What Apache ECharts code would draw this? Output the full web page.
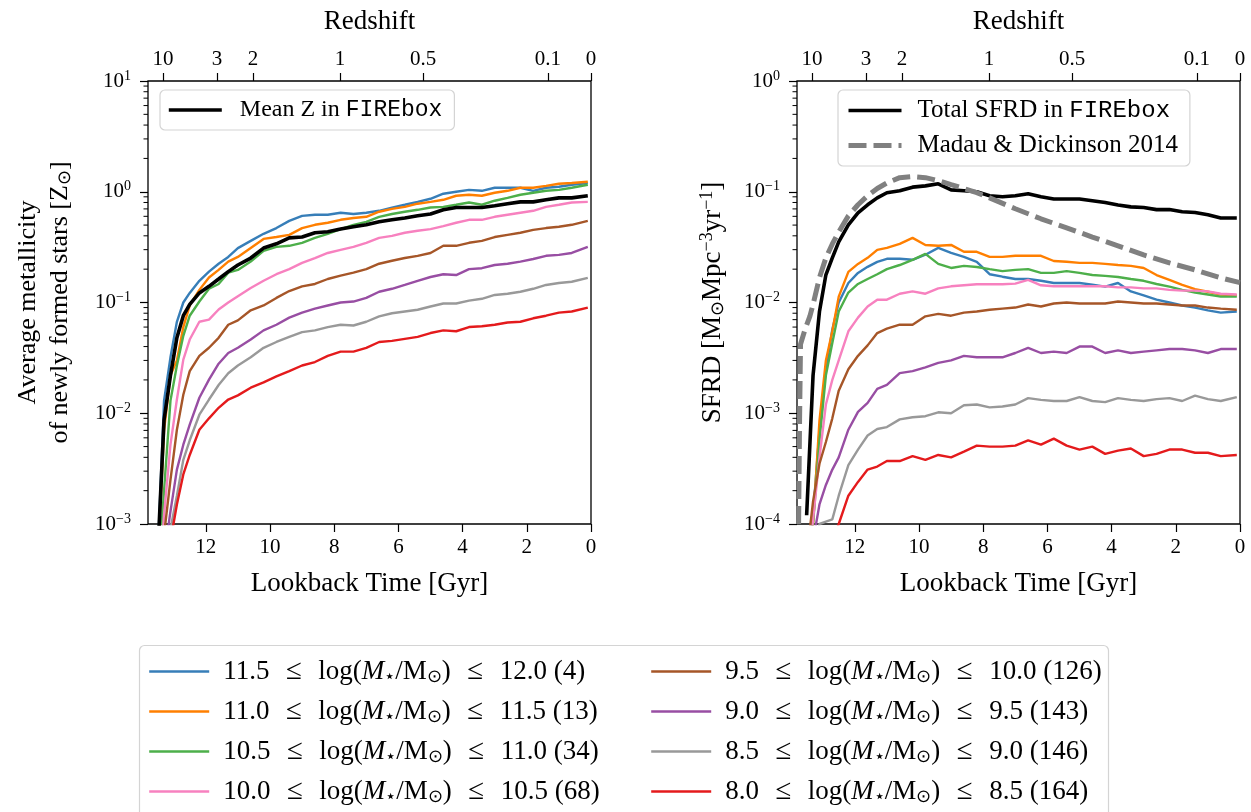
<!DOCTYPE html>
<html>
<head>
<meta charset="utf-8">
<script src="https://cdn.jsdelivr.net/npm/echarts@6/dist/echarts.min.js"></script>
<style>
html,body{margin:0;padding:0;background:#fff;}
#chart{width:1251px;height:812px;}
</style>
</head>
<body>
<div id="chart"></div>
<script>
// ---------------- DATA ----------------
const lookbackTime = [13.5, 13.3, 13.1, 12.9, 12.7, 12.5, 12.2, 11.9, 11.6, 11.3, 11.0,
  10.6, 10.2, 9.8, 9.4, 9.0, 8.6, 8.2, 7.8, 7.4, 7.0, 6.6, 6.2, 5.8, 5.4, 5.0,
  4.6, 4.2, 3.8, 3.4, 3.0, 2.6, 2.2, 1.8, 1.4, 1.0, 0.6, 0.1];

const binLabels = [
  '11.5 ≤ log(M⋆/M⊙) ≤ 12.0 (4)',
  '11.0 ≤ log(M⋆/M⊙) ≤ 11.5 (13)',
  '10.5 ≤ log(M⋆/M⊙) ≤ 11.0 (34)',
  '10.0 ≤ log(M⋆/M⊙) ≤ 10.5 (68)',
  '9.5 ≤ log(M⋆/M⊙) ≤ 10.0 (126)',
  '9.0 ≤ log(M⋆/M⊙) ≤ 9.5 (143)',
  '8.5 ≤ log(M⋆/M⊙) ≤ 9.0 (146)',
  '8.0 ≤ log(M⋆/M⊙) ≤ 8.5 (164)'
];
const binColors = ['#377eb8', '#ff7f00', '#4daf4a', '#f781bf', '#a65628', '#984ea3', '#999999', '#e41a1c'];

// Left panel: average metallicity of newly formed stars [Zsun]
const metal_115_120 = [0.0005, 0.013, 0.032, 0.067, 0.1, 0.122, 0.157, 0.19, 0.224, 0.258, 0.31, 0.36, 0.417, 0.47, 0.546, 0.606, 0.62, 0.62, 0.646, 0.63, 0.646, 0.673, 0.72, 0.763, 0.81, 0.864, 0.96, 1.0, 1.04, 1.02, 1.087, 1.087, 1.087, 1.02, 1.087, 1.11, 1.157, 1.2];
const metal_110_115 = [0.0004, 0.007, 0.022, 0.03, 0.06, 0.094, 0.13, 0.168, 0.197, 0.234, 0.258, 0.31, 0.375, 0.39, 0.408, 0.47, 0.503, 0.525, 0.558, 0.58, 0.594, 0.66, 0.7, 0.73, 0.78, 0.81, 0.846, 0.92, 0.94, 0.92, 0.98, 1.02, 1.087, 1.087, 1.13, 1.18, 1.2, 1.23];
const metal_105_110 = [0.0003, 0.002, 0.013, 0.027, 0.05, 0.076, 0.102, 0.133, 0.147, 0.186, 0.197, 0.234, 0.293, 0.318, 0.325, 0.346, 0.383, 0.417, 0.46, 0.503, 0.535, 0.594, 0.63, 0.66, 0.687, 0.72, 0.73, 0.763, 0.8, 0.763, 0.83, 0.88, 0.94, 0.98, 1.02, 1.04, 1.087, 1.157];
const metal_100_105 = [0.0002, 0.0012, 0.0052, 0.0133, 0.0305, 0.0463, 0.067, 0.07, 0.0864, 0.1, 0.114, 0.135, 0.157, 0.18, 0.2, 0.228, 0.252, 0.28, 0.299, 0.318, 0.346, 0.383, 0.4, 0.426, 0.444, 0.46, 0.49, 0.525, 0.558, 0.558, 0.594, 0.62, 0.646, 0.673, 0.73, 0.763, 0.8, 0.81];
const metal_95_100 = [0.0002, 0.0008, 0.0025, 0.0071, 0.0147, 0.024, 0.033, 0.039, 0.048, 0.063, 0.069, 0.085, 0.094, 0.11, 0.127, 0.14, 0.147, 0.163, 0.175, 0.186, 0.2, 0.224, 0.238, 0.252, 0.264, 0.28, 0.325, 0.325, 0.346, 0.36, 0.39, 0.408, 0.426, 0.453, 0.47, 0.483, 0.503, 0.546];
const metal_90_95 = [0.0001, 0.0005, 0.0013, 0.0031, 0.0052, 0.0079, 0.0138, 0.0201, 0.028, 0.035, 0.039, 0.0463, 0.056, 0.063, 0.073, 0.081, 0.088, 0.094, 0.1, 0.102, 0.11, 0.125, 0.133, 0.144, 0.157, 0.17, 0.18, 0.177, 0.2, 0.204, 0.218, 0.224, 0.234, 0.247, 0.264, 0.269, 0.28, 0.318];
const metal_85_90 = [0.0001, 0.0004, 0.0009, 0.0018, 0.0038, 0.0057, 0.0097, 0.0133, 0.018, 0.023, 0.027, 0.032, 0.039, 0.044, 0.049, 0.054, 0.056, 0.06, 0.063, 0.062, 0.067, 0.075, 0.08, 0.083, 0.086, 0.092, 0.098, 0.098, 0.104, 0.108, 0.117, 0.12, 0.125, 0.133, 0.144, 0.15, 0.154, 0.167];
const metal_80_85 = [0.0001, 0.0003, 0.0007, 0.0015, 0.0028, 0.0042, 0.0071, 0.009, 0.0112, 0.0133, 0.0145, 0.017, 0.019, 0.0215, 0.024, 0.027, 0.029, 0.033, 0.036, 0.036, 0.039, 0.044, 0.045, 0.047, 0.049, 0.053, 0.056, 0.055, 0.06, 0.061, 0.063, 0.066, 0.067, 0.072, 0.076, 0.081, 0.083, 0.09];
const metal_mean = [0.0005, 0.0087, 0.022, 0.048, 0.076, 0.096, 0.122, 0.14, 0.163, 0.19, 0.218, 0.252, 0.31, 0.339, 0.383, 0.39, 0.426, 0.435, 0.46, 0.483, 0.503, 0.535, 0.558, 0.58, 0.606, 0.63, 0.687, 0.72, 0.72, 0.72, 0.747, 0.78, 0.81, 0.81, 0.846, 0.88, 0.88, 0.92];

// Right panel: SFRD [Msun Mpc^-3 yr^-1]
const sfrd_115_120 = [0.00004, 0.00012, 0.0007, 0.0025, 0.0057, 0.01, 0.015, 0.0185, 0.021, 0.0233, 0.0248, 0.0248, 0.0243, 0.027, 0.0311, 0.028, 0.0258, 0.0233, 0.018, 0.0171, 0.0163, 0.0163, 0.0157, 0.015, 0.015, 0.015, 0.0145, 0.0139, 0.015, 0.0126, 0.0116, 0.0106, 0.01, 0.0094, 0.009, 0.0085, 0.0081, 0.0083];
const sfrd_110_115 = [0.00003, 0.0001, 0.00086, 0.003, 0.0055, 0.0113, 0.0189, 0.0223, 0.0253, 0.0299, 0.0311, 0.0338, 0.0383, 0.0331, 0.0325, 0.0331, 0.0287, 0.0287, 0.0258, 0.0258, 0.0264, 0.0264, 0.0264, 0.0237, 0.0233, 0.0228, 0.0228, 0.0223, 0.0218, 0.0214, 0.0205, 0.0177, 0.016, 0.0144, 0.0132, 0.0125, 0.0118, 0.0116];
const sfrd_105_110 = [0.00003, 0.0001, 0.00057, 0.0022, 0.0043, 0.0083, 0.0123, 0.0147, 0.0163, 0.018, 0.02, 0.0218, 0.0243, 0.0275, 0.0223, 0.0205, 0.0214, 0.0209, 0.02, 0.0192, 0.0197, 0.02, 0.0185, 0.0185, 0.0192, 0.0185, 0.0177, 0.0174, 0.017, 0.0163, 0.0157, 0.0147, 0.0139, 0.013, 0.0123, 0.0118, 0.0113, 0.0113];
const sfrd_100_105 = [0.00003, 0.00011, 0.0004, 0.0012, 0.002, 0.003, 0.0055, 0.0073, 0.0092, 0.0106, 0.0106, 0.012, 0.0126, 0.012, 0.0134, 0.014, 0.0143, 0.0146, 0.0146, 0.0146, 0.0148, 0.016, 0.0143, 0.014, 0.014, 0.014, 0.014, 0.014, 0.0137, 0.0137, 0.0134, 0.0134, 0.013, 0.0128, 0.0128, 0.0126, 0.012, 0.0118];
const sfrd_95_100 = [0.00005, 0.00016, 0.00035, 0.00055, 0.0009, 0.0016, 0.0025, 0.0033, 0.0041, 0.0053, 0.0058, 0.0063, 0.0063, 0.0075, 0.0079, 0.0076, 0.0081, 0.0083, 0.0086, 0.0088, 0.009, 0.0096, 0.0092, 0.0098, 0.01, 0.0098, 0.0098, 0.0098, 0.0102, 0.01, 0.0098, 0.0098, 0.0096, 0.0094, 0.0094, 0.009, 0.0088, 0.0086];
const sfrd_90_95 = [0.00003, 0.00007, 0.00015, 0.000225, 0.00031, 0.0004, 0.00071, 0.00103, 0.00124, 0.00166, 0.0018, 0.0023, 0.0024, 0.0026, 0.00285, 0.003, 0.0033, 0.0032, 0.0032, 0.0032, 0.0035, 0.0039, 0.0035, 0.0036, 0.0035, 0.004, 0.004, 0.0035, 0.0037, 0.0035, 0.0036, 0.0037, 0.0038, 0.0038, 0.0037, 0.0035, 0.0038, 0.0038];
const sfrd_85_90 = [0.00002, 0.00004, 0.0001, 0.000105, 0.00011, 0.00018, 0.00034, 0.00047, 0.00063, 0.00072, 0.00075, 0.00088, 0.00092, 0.00094, 0.00102, 0.001, 0.00118, 0.0012, 0.00113, 0.00115, 0.0012, 0.00137, 0.00132, 0.00129, 0.00129, 0.0014, 0.00129, 0.00126, 0.00137, 0.00132, 0.00129, 0.00134, 0.00137, 0.00129, 0.00144, 0.00134, 0.00129, 0.0014];
const sfrd_80_85 = [0.00001, 0.00002, 0.00003, 0.00005, 0.00007, 0.0001, 0.00018, 0.00024, 0.00031, 0.00033, 0.00037, 0.00037, 0.00041, 0.00038, 0.00042, 0.0004, 0.00045, 0.00051, 0.0005, 0.0005, 0.00051, 0.00057, 0.00052, 0.00059, 0.00051, 0.00047, 0.0005, 0.00043, 0.00046, 0.00048, 0.00041, 0.00043, 0.00047, 0.00047, 0.00044, 0.00044, 0.00041, 0.00042];
const sfrd_total = [0.00012, 0.0022, 0.0083, 0.0178, 0.0253, 0.0353, 0.0503, 0.0646, 0.0763, 0.088, 0.098, 0.102, 0.11, 0.113, 0.118, 0.104, 0.102, 0.1, 0.092, 0.09, 0.092, 0.096, 0.09, 0.086, 0.086, 0.086, 0.083, 0.08, 0.076, 0.073, 0.072, 0.069, 0.069, 0.066, 0.065, 0.062, 0.058, 0.058];

// Madau & Dickinson 2014 curve
const mdTime = [13.75, 13.72, 13.69, 13.55, 13.4, 13.3, 13.1, 12.9, 12.7, 12.5, 12.2, 11.9, 11.6, 11.3, 11.0, 10.6, 10.2, 9.8, 9.4, 9.0, 8.6, 8.2, 7.8, 7.0, 6.2, 5.4, 4.6, 3.8, 3.0, 2.2, 1.4, 0.6, 0.0];
const mdSfrd = [0.0001, 0.00086, 0.0042, 0.0057, 0.0075, 0.0096, 0.0168, 0.0253, 0.0338, 0.0434, 0.0606, 0.0763, 0.092, 0.107, 0.12, 0.134, 0.137, 0.134, 0.126, 0.116, 0.107, 0.098, 0.088, 0.0702, 0.057, 0.0472, 0.039, 0.0325, 0.0269, 0.0228, 0.0197, 0.0167, 0.0151];

// Axis ticks
const lookbackTicks = [0, 2, 4, 6, 8, 10, 12];
const redshiftTickLabels = ['10', '3', '2', '1', '0.5', '0.1', '0'];
const redshiftTickLookback = [13.33, 11.65, 10.53, 7.82, 5.23, 1.34, 0];
const minorMultipliers = [2, 3, 4, 5, 6, 7, 8, 9];

const metalSeriesVals = [metal_115_120, metal_110_115, metal_105_110, metal_100_105, metal_95_100, metal_90_95, metal_85_90, metal_80_85];
const sfrdSeriesVals = [sfrd_115_120, sfrd_110_115, sfrd_105_110, sfrd_100_105, sfrd_95_100, sfrd_90_95, sfrd_85_90, sfrd_80_85];

// ---------------- CHART ----------------
const FONT = 'Liberation Serif';
const MONO = 'Liberation Mono';
const X_MAX = 13.8;
const chart = echarts.init(document.getElementById('chart'));

function minorTickValues(lo, hi) {
  const out = [];
  for (let d = lo; d < hi; d++) minorMultipliers.forEach(k => out.push([X_MAX, k * Math.pow(10, d)]));
  return out;
}
function powLabel(v) {
  const e = Math.round(Math.log10(v));
  return '10{sup|' + (e < 0 ? '\u2212' + (-e) : String(e)) + '}';
}
function redshiftLabel(v) {
  let best = 0;
  for (let i = 0; i < redshiftTickLookback.length; i++) {
    if (Math.abs(redshiftTickLookback[i] - v) < Math.abs(redshiftTickLookback[best] - v)) best = i;
  }
  return redshiftTickLabels[best];
}
const tickLine = {color: '#000', width: 1.2};
const labelStyle = {fontFamily: FONT, fontSize: 21, color: '#000'};
const titleStyle = {fontFamily: FONT, fontSize: 27, color: '#000'};

function bottomAxis(g) {
  return {
    type: 'value', gridIndex: g, min: 0, max: X_MAX, inverse: true, position: 'bottom',
    axisLine: {show: false, onZero: false},
    axisTick: {show: true, customValues: lookbackTicks, length: 8, lineStyle: tickLine},
    axisLabel: Object.assign({customValues: lookbackTicks, margin: 13}, labelStyle),
    splitLine: {show: false},
    name: 'Lookback Time [Gyr]', nameLocation: 'middle', nameGap: 46, nameTextStyle: titleStyle
  };
}
function topAxis(g) {
  return {
    type: 'value', gridIndex: g, min: 0, max: X_MAX, inverse: true, position: 'top',
    axisLine: {show: false, onZero: false},
    axisTick: {show: true, customValues: redshiftTickLookback, length: 8, lineStyle: tickLine},
    axisLabel: Object.assign({customValues: redshiftTickLookback, margin: 11, formatter: redshiftLabel}, labelStyle),
    splitLine: {show: false},
    name: 'Redshift', nameLocation: 'middle', nameGap: 46, nameTextStyle: titleStyle
  };
}
function logAxis(g, mn, mx, name, gap, rich, fs) {
  return {
    type: 'log', logBase: 10, gridIndex: g, min: mn, max: mx, position: 'left',
    axisLine: {show: false, onZero: false},
    axisTick: {show: true, length: 8, lineStyle: tickLine},
    axisLabel: Object.assign({formatter: powLabel, margin: 17,
      rich: {sup: {fontFamily: FONT, fontSize: 14, padding: [0, 0, 10, 0], color: '#000'}}}, labelStyle),
    splitLine: {show: false},
    minorTick: {show: false},
    name: name, nameLocation: 'middle', nameRotate: 90, nameGap: gap,
    nameTextStyle: {fontFamily: FONT, fontSize: fs, color: '#000', lineHeight: 32, rich: rich}
  };
}
// minor log ticks drawn through the axis scale
function minorTickSeries(xi, yi, lo, hi) {
  return {
    type: 'custom', xAxisIndex: xi, yAxisIndex: yi, silent: true, clip: false, z: 5,
    data: minorTickValues(lo, hi),
    renderItem: function (params, api) {
      const p = api.coord([api.value(0), api.value(1)]);
      return {type: 'line', shape: {x1: p[0] - 4.5, y1: p[1], x2: p[0], y2: p[1]},
              style: {stroke: '#000', lineWidth: 1}};
    }
  };
}

const series = [];
metalSeriesVals.forEach((vals, i) => {
  series.push({
    name: binLabels[i], type: 'line', xAxisIndex: 0, yAxisIndex: 0, symbol: 'none',
    data: lookbackTime.map((t, j) => [t, vals[j]]),
    lineStyle: {width: 2.4, color: binColors[i]}, itemStyle: {color: binColors[i]}
  });
});
series.push({
  name: 'Mean Z in FIREbox', type: 'line', xAxisIndex: 0, yAxisIndex: 0, symbol: 'none',
  data: lookbackTime.map((t, j) => [t, metal_mean[j]]),
  lineStyle: {width: 3.6, color: '#000'}, itemStyle: {color: '#000'}
});
sfrdSeriesVals.forEach((vals, i) => {
  series.push({
    name: binLabels[i], type: 'line', xAxisIndex: 1, yAxisIndex: 1, symbol: 'none',
    data: lookbackTime.map((t, j) => [t, vals[j]]),
    lineStyle: {width: 2.4, color: binColors[i]}, itemStyle: {color: binColors[i]}
  });
});
series.push({
  name: 'Total SFRD in FIREbox', type: 'line', xAxisIndex: 1, yAxisIndex: 1, symbol: 'none',
  data: lookbackTime.map((t, j) => [t, sfrd_total[j]]),
  lineStyle: {width: 3.6, color: '#000'}, itemStyle: {color: '#000'}
});
series.push({
  name: 'Madau & Dickinson 2014', type: 'line', xAxisIndex: 1, yAxisIndex: 1, symbol: 'none',
  data: mdTime.map((t, j) => [t, mdSfrd[j]]),
  lineStyle: {width: 5, color: '#808080', type: [18, 7]}, itemStyle: {color: '#808080'}
});
series.push(minorTickSeries(0, 0, -3, 1));
series.push(minorTickSeries(1, 1, -4, 0));

function makeRich(fs) {
  return {
    mono: {fontFamily: MONO, fontSize: fs - 1, color: '#000', lineHeight: 28},
    it: {fontFamily: FONT, fontStyle: 'italic', fontSize: fs, color: '#000', lineHeight: 28},
    le: {fontFamily: FONT, fontSize: fs + 2, color: '#000', lineHeight: 28, padding: [0, 3, 0, 3]},
    sub: {fontFamily: FONT, fontSize: Math.round(fs * 0.66), padding: [11, 0, 0, 0], color: '#000'}
  };
}
function legendFmt(name) {
  return name.replace('FIREbox', '{mono|FIREbox}')
             .replace('log(M⋆/M⊙)', 'log({it|M}{sub|⋆}/M{sub|⊙})')
             .split(' ≤ ').join('\u2002{le|≤}\u2002');
}
const innerLegendBase = {
  orient: 'vertical', itemWidth: 53, itemHeight: 14, selectedMode: false,
  borderColor: '#d4d4d4', borderWidth: 1.2, borderRadius: 5,
  backgroundColor: 'rgba(255,255,255,0.85)',
  lineStyle: {width: 'inherit'},
  itemStyle: {opacity: 0, borderWidth: 0},
  formatter: legendFmt
};
const bottomLegendBase = {
  orient: 'vertical', itemWidth: 60, itemHeight: 14, itemGap: 11, padding: 0, selectedMode: false,
  height: 180,
  lineStyle: {width: 'inherit'},
  itemStyle: {opacity: 0, borderWidth: 0},
  textStyle: {fontFamily: FONT, fontSize: 27, color: '#000', lineHeight: 28, padding: [0, 0, 0, 9], rich: makeRich(27)},
  formatter: legendFmt
};

const option = {
  animation: false,
  backgroundColor: '#fff',
  grid: [
    {left: 148, top: 81, width: 443, height: 443, show: true, borderColor: '#000', borderWidth: 1.3, backgroundColor: 'transparent'},
    {left: 797, top: 81, width: 443, height: 443, show: true, borderColor: '#000', borderWidth: 1.3, backgroundColor: 'transparent'}
  ],
  xAxis: [bottomAxis(0), bottomAxis(1), topAxis(0), topAxis(1)],
  yAxis: [
    logAxis(0, 0.001, 10, 'Average metallicity\nof newly formed stars [Z{sub|⊙}]', 72,
      {sub: {fontFamily: FONT, fontSize: 18, padding: [10, 0, 0, 0], color: '#000'}}, 26),
    logAxis(1, 0.0001, 1, 'SFRD [M{sub|⊙}Mpc{sup|\u22123}yr{sup|\u22121}]', 68,
      {sub: {fontFamily: FONT, fontSize: 18, padding: [10, 0, 0, 0], color: '#000'},
       sup: {fontFamily: FONT, fontSize: 18, padding: [0, 0, 12, 0], color: '#000'}}, 27)
  ],
  legend: [
    Object.assign({}, innerLegendBase, {
      left: 160, top: 90, padding: [8, 12, 8, 7], itemGap: 11,
      data: ['Mean Z in FIREbox'],
      textStyle: {fontFamily: FONT, fontSize: 24, color: '#000', padding: [0, 0, 0, 13], rich: makeRich(24)}
    }),
    Object.assign({}, innerLegendBase, {
      left: 838, top: 90, padding: [8, 12, 8, 8], itemGap: 10,
      data: ['Total SFRD in FIREbox', 'Madau & Dickinson 2014'],
      textStyle: {fontFamily: FONT, fontSize: 25, color: '#000', padding: [0, 0, 0, 11], rich: makeRich(25)}
    }),
    Object.assign({}, bottomLegendBase, {left: 148, top: 657, data: binLabels.slice(0, 4)}),
    Object.assign({}, bottomLegendBase, {left: 650, top: 657, data: binLabels.slice(4, 8)})
  ],
  graphic: [{
    type: 'rect', z: 0, silent: true,
    shape: {x: 139.5, y: 645.5, width: 969, height: 200, r: 5},
    style: {fill: '#fff', stroke: '#d4d4d4', lineWidth: 1.2}
  }],
  series: series
};
chart.setOption(option);
</script>
</body>
</html>
